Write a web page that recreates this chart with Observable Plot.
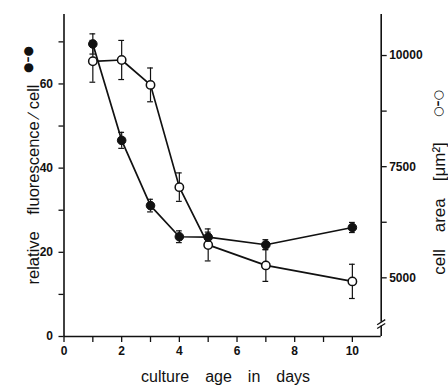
<!DOCTYPE html>
<html>
<head>
<meta charset="utf-8">
<script src="https://cdn.jsdelivr.net/npm/d3@7"></script>
<script src="https://cdn.jsdelivr.net/npm/@observablehq/plot@0.6"></script>
<style>
  html, body { margin: 0; padding: 0; background: #fff; }
</style>
</head>
<body>
<div id="chart"></div>
<script>
// ---- data ----
const days = [1, 2, 3, 4, 5, 7, 10];
const fluorescence = [69.5, 46.6, 31.1, 23.7, 23.6, 21.8, 25.9];   // relative fluorescence / cell (left axis)
const fluorescenceErr = [2.4, 1.9, 1.5, 1.4, 1.2, 1.2, 1.2];
const cellArea = [9870, 9900, 9340, 7040, 5740, 5280, 4920];        // cell area µm² (right axis)
const cellAreaErr = [470, 440, 380, 320, 360, 360, 385];

const xTicks = [0, 1, 2, 3, 4, 5, 6, 7, 8, 9, 10];
const leftTicks = [0, 10, 20, 30, 40, 50, 60, 70];
const rightTicks = [5000, 6250, 7500, 8750, 10000];

const xLabel = "culture\u2003age\u2003in\u2003days";
const leftLabel = "relative\u2003fluorescence \u2215 cell";
const leftKey = "\u25CF\u2013\u25CF";
const rightLabel = "cell\u2003area\u2003[\u03BCm\u00B2]";
const rightKey = "\u25CB\u2013\u25CB";

// ---- right axis (cell area) expressed in left-axis units ----
const yTop = 76.5;
const xMax = 11;
const toLeft = d3.scaleLinear().domain([5000, 10000]).range([13.94, 66.75]);

const fRows = days.map((d, i) => ({day: d, v: fluorescence[i], lo: fluorescence[i] - fluorescenceErr[i], hi: fluorescence[i] + fluorescenceErr[i]}));
const aRows = days.map((d, i) => ({day: d, v: toLeft(cellArea[i]), lo: toLeft(cellArea[i] - cellAreaErr[i]), hi: toLeft(cellArea[i] + cellAreaErr[i])}));

const capW = 0.1;
const brk = [{a: 1.9}, {a: 2.8}];

const tickFont = {fontSize: 12, fontWeight: "bold"};
const keyFont = {fontSize: 12, fontWeight: "bold", fontFamily: "'DejaVu Sans', sans-serif"};

const chart = Plot.plot({
  width: 448,
  height: 386,
  marginLeft: 63.5,
  marginRight: 67.3,
  marginTop: 14,
  marginBottom: 50,
  x: {domain: [0, xMax]},
  y: {domain: [0, yTop]},
  style: {fontFamily: "'Liberation Sans', Arial, Helvetica, sans-serif", color: "#111", background: "#fff", overflow: "visible"},
  marks: [
    // axes frame
    Plot.ruleX([0], {y1: 0, y2: yTop, strokeWidth: 1.6}),
    Plot.ruleY([0], {x1: 0, x2: xMax, strokeWidth: 1.6}),
    Plot.ruleX([xMax], {y1: 3.4, y2: yTop, strokeWidth: 1.6}),
    Plot.ruleX([xMax], {y1: 0, y2: 2.5, strokeWidth: 1.6}),
    Plot.link(brk, {x1: xMax - 0.14, x2: xMax + 0.14, y1: d => d.a, y2: d => d.a + 1.2, strokeWidth: 1.3}),

    Plot.axisX(xTicks, {tickFormat: d => d % 2 ? "" : `${d}`, tickSize: 6, tickPadding: 4, strokeWidth: 1.3, label: null, ...tickFont}),
    Plot.axisY(leftTicks, {anchor: "left", tickFormat: d => d % 20 ? "" : `${d}`, tickSize: 5, tickPadding: 6, strokeWidth: 1.3, label: null, ...tickFont}),
    Plot.axisY(rightTicks.map(toLeft), {anchor: "right", tickFormat: v => { const r = Math.round(toLeft.invert(v)); return r % 2500 ? "" : `${r}`; }, tickSize: 5, tickPadding: 3, strokeWidth: 1.3, label: null, ...tickFont}),

    // axis titles
    Plot.text([xLabel], {frameAnchor: "bottom", text: d => d, textAnchor: "middle", dx: 3, dy: 45, lineAnchor: "bottom", fontSize: 16}),
    Plot.text([leftLabel], {frameAnchor: "top-left", text: d => d, textAnchor: "middle", rotate: -90, dx: -37, dy: 170, fontSize: 16.5}),
    Plot.text([leftKey], {frameAnchor: "top-left", text: d => d, textAnchor: "middle", rotate: -90, dx: -41, dy: 45, ...keyFont}),
    Plot.text([rightLabel], {frameAnchor: "top-right", text: d => d, textAnchor: "middle", rotate: -90, dx: 52, dy: 194, fontSize: 17}),
    Plot.text([rightKey], {frameAnchor: "top-right", text: d => d, textAnchor: "middle", rotate: -90, dx: 52, dy: 89, ...keyFont}),

    // lines
    Plot.line(fRows, {x: "day", y: "v", stroke: "#111", strokeWidth: 1.7}),
    Plot.line(aRows, {x: "day", y: "v", stroke: "#111", strokeWidth: 1.7}),

    // error bars
    Plot.ruleX(fRows, {x: "day", y1: "lo", y2: "hi", stroke: "#111", strokeWidth: 1.2}),
    Plot.ruleY(fRows, {x1: d => d.day - capW, x2: d => d.day + capW, y: "hi", stroke: "#111", strokeWidth: 1.2}),
    Plot.ruleY(fRows, {x1: d => d.day - capW, x2: d => d.day + capW, y: "lo", stroke: "#111", strokeWidth: 1.2}),
    Plot.ruleX(aRows, {x: "day", y1: "lo", y2: "hi", stroke: "#111", strokeWidth: 1.2}),
    Plot.ruleY(aRows, {x1: d => d.day - capW, x2: d => d.day + capW, y: "hi", stroke: "#111", strokeWidth: 1.2}),
    Plot.ruleY(aRows, {x1: d => d.day - capW, x2: d => d.day + capW, y: "lo", stroke: "#111", strokeWidth: 1.2}),

    // markers
    Plot.dot(aRows, {x: "day", y: "v", r: 4.2, fill: "#fff", stroke: "#111", strokeWidth: 1.5}),
    Plot.dot(fRows, {x: "day", y: "v", r: 4.3, fill: "#111", stroke: "#111", strokeWidth: 1})
  ]
});
document.getElementById("chart").appendChild(chart);
</script>
</body>
</html>
